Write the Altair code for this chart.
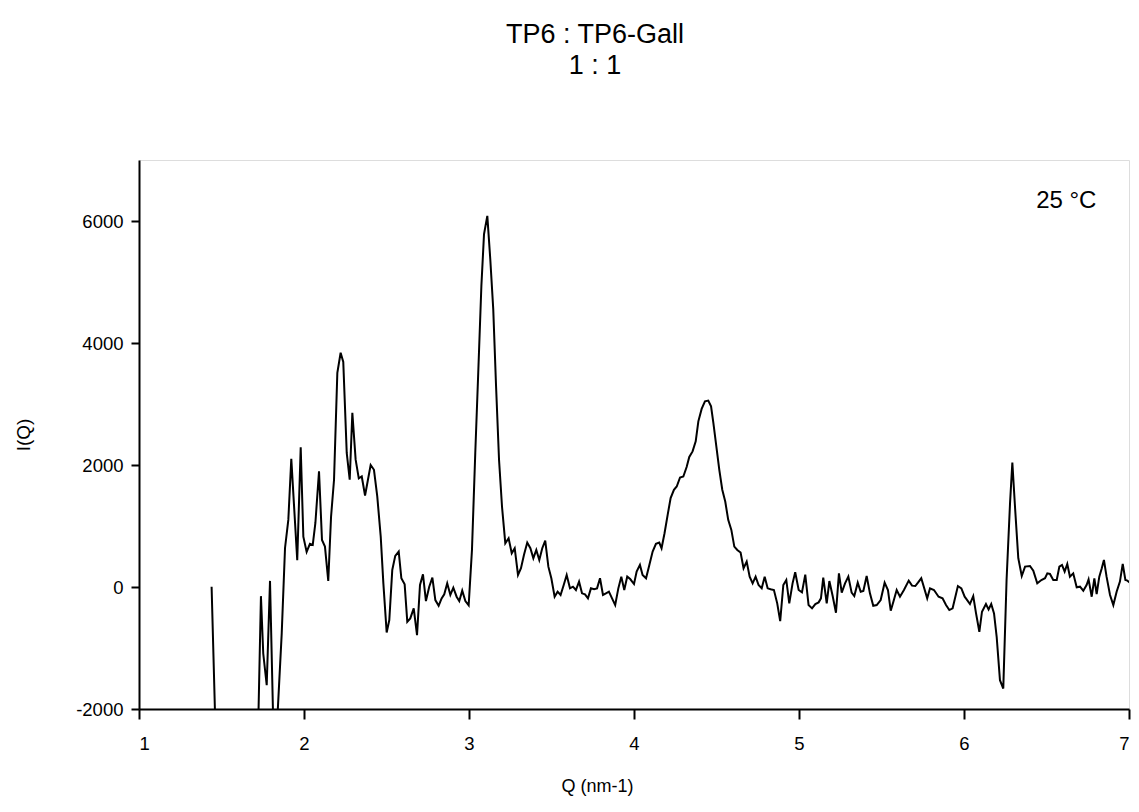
import altair as alt
import pandas as pd

# Q (nm-1) values
q = [1.440, 1.462, 1.50, 1.55, 1.60, 1.65, 1.70, 1.720, 1.739, 1.753, 1.774, 1.794, 1.815, 1.830,
     1.865, 1.885, 1.905, 1.923, 1.959, 1.980, 1.996, 2.016, 2.036, 2.053, 2.069, 2.091, 2.109,
     2.127, 2.147, 2.164, 2.182, 2.202, 2.222, 2.238, 2.259, 2.277, 2.293, 2.313, 2.332, 2.350,
     2.370, 2.387, 2.404, 2.424, 2.444, 2.465, 2.481, 2.501, 2.517, 2.535, 2.553, 2.574, 2.590,
     2.610, 2.626, 2.644, 2.665, 2.685, 2.703, 2.721, 2.739, 2.759, 2.778, 2.796, 2.816, 2.834,
     2.850, 2.868, 2.887, 2.905, 2.925, 2.941, 2.959, 2.978, 2.998, 3.018, 3.038, 3.056, 3.075,
     3.091, 3.111, 3.129, 3.147, 3.164, 3.182, 3.200, 3.220, 3.240, 3.259, 3.277, 3.297, 3.315,
     3.333, 3.353, 3.372, 3.390, 3.408, 3.426, 3.444, 3.462, 3.481, 3.499, 3.519, 3.537, 3.555,
     3.574, 3.592, 3.612, 3.630, 3.648, 3.667, 3.685, 3.703, 3.721, 3.739, 3.758, 3.776, 3.794,
     3.812, 3.830, 3.848, 3.867, 3.886, 3.905, 3.923, 3.941, 3.959, 3.977, 4.000, 4.016, 4.036,
     4.052, 4.073, 4.093, 4.113, 4.133, 4.153, 4.167, 4.185, 4.204, 4.222, 4.242, 4.259, 4.279,
     4.299, 4.319, 4.335, 4.355, 4.374, 4.390, 4.410, 4.430, 4.450, 4.467, 4.481, 4.499, 4.517,
     4.535, 4.553, 4.571, 4.590, 4.608, 4.626, 4.646, 4.664, 4.683, 4.701, 4.719, 4.737, 4.755,
     4.774, 4.792, 4.810, 4.828, 4.848, 4.868, 4.886, 4.905, 4.923, 4.941, 4.961, 4.977, 4.998,
     5.018, 5.038, 5.058, 5.079, 5.099, 5.119, 5.133, 5.147, 5.168, 5.184, 5.204, 5.224, 5.242,
     5.259, 5.279, 5.299, 5.319, 5.335, 5.356, 5.374, 5.390, 5.410, 5.430, 5.450, 5.471, 5.495,
     5.519, 5.539, 5.556, 5.572, 5.592, 5.612, 5.636, 5.665, 5.685, 5.705, 5.721, 5.741, 5.777,
     5.794, 5.818, 5.846, 5.870, 5.891, 5.911, 5.931, 5.963, 5.984, 6.004, 6.016, 6.036, 6.056,
     6.073, 6.093, 6.109, 6.133, 6.149, 6.165, 6.182, 6.198, 6.218, 6.238, 6.258, 6.279, 6.293,
     6.309, 6.329, 6.350, 6.370, 6.400, 6.420, 6.444, 6.469, 6.491, 6.505, 6.521, 6.541, 6.562,
     6.578, 6.594, 6.610, 6.626, 6.642, 6.662, 6.683, 6.703, 6.723, 6.743, 6.755, 6.774, 6.790,
     6.804, 6.820, 6.835, 6.848, 6.864, 6.885, 6.905, 6.925, 6.945, 6.962, 6.978, 6.990, 7.006]

# I(Q) values
iq = [5, -2200, -4000, -4000, -4000, -4000, -4000, -2600, -150, -1090, -1610, 100, -2400, -2600,
      -760, 640, 1100, 2100, 440, 2290, 826, 575, 707, 690, 1050, 1895, 772,
      662, 98, 1155, 1758, 3510, 3840, 3690, 2197, 1758, 2854, 2087, 1780, 1812,
      1500, 1750, 2000, 1922, 1484, 826, 60, -745, -542, 280, 510, 580, 143,
      44, -570, -515, -350, -789, 33, 208, -230, 5, 153, -214, -307, -186,
      -120, 60, -131, -11, -159, -230, -60, -230, -300, 608, 2197, 3511, 4934,
      5783, 6084, 5373, 4551, 3291, 2087, 1319, 718, 800, 554, 636, 197, 307,
      526, 728, 636, 472, 608, 444, 636, 761, 334, 143, -159, -77, -131,
      33, 197, -22, 5, -49, 88, -104, -120, -186, -22, -38, -22, 143,
      -131, -104, -77, -186, -296, -22, 170, -49, 170, 130, 49, 252, 362,
      197, 143, 362, 580, 707, 728, 636, 882, 1183, 1457, 1594, 1648, 1796,
      1812, 1967, 2131, 2223, 2387, 2716, 2920, 3045, 3056, 2962, 2690, 2305, 1922,
      1594, 1401, 1101, 936, 662, 608, 564, 307, 416, 170, 60, 170, 33,
      -22, 170, -22, -38, -49, -268, -560, 33, 115, -268, 60, 241, -49,
      -88, 203, -296, -350, -279, -252, -186, 153, -268, 98, -148, -422, 224,
      -93, 60, 170, -93, -148, 71, -77, -66, 181, -104, -307, -296, -214,
      71, -49, -389, -241, -49, -159, -49, 104, 22, 16, 71, 143, -186,
      -22, -49, -159, -186, -296, -378, -350, 16, -22, -159, -202, -279, -148,
      -433, -734, -405, -279, -367, -279, -433, -816, -1528, -1665, 115, 1375, 2042,
      1319, 472, 181, 334, 345, 268, 60, 115, 143, 224, 214, 115, 115,
      334, 362, 252, 378, 170, 224, -5, 5, -60, 33, 126, -159, 143,
      -115, 170, 307, 444, 170, -131, -296, -77, 88, 378, 115, 104, 71]

x_ticks = [1, 2, 3, 4, 5, 6, 7]
y_ticks = [-2000, 0, 2000, 4000, 6000]
title_lines = ["TP6 : TP6-Gall", "1 : 1"]
note_text = ["25 °C"]
note_q = [6.62]
note_i = [6330]

df = pd.DataFrame({"Q": q, "I": iq, "order": list(range(len(q)))})
notes = pd.DataFrame({"Q": note_q, "I": note_i, "label": note_text})

FONT = "Liberation Sans"

x_enc = alt.X(
    "Q:Q",
    scale=alt.Scale(domain=[1, 7], nice=False, zero=False),
    axis=alt.Axis(
        title="Q (nm-1)", values=x_ticks, labelExpr="'' + datum.value", grid=False,
        domainColor="black", domainWidth=2, tickColor="black", tickWidth=2,
        tickSize=10, labelPadding=15, labelFontSize=18.5, titleFontSize=18,
        labelFont=FONT, titleFont=FONT, titleFontWeight="normal",
        labelColor="black", titleColor="black", titlePadding=25,
        titleX=458, titleAlign="center",
    ),
)
y_enc = alt.Y(
    "I:Q",
    scale=alt.Scale(domain=[-2000, 7000], nice=False, zero=False),
    axis=alt.Axis(
        title="I(Q)", values=y_ticks, labelExpr="'' + datum.value", grid=False,
        domainColor="black", domainWidth=2, tickColor="black", tickWidth=2,
        tickSize=8, labelPadding=8, labelFontSize=18.5, titleFontSize=19,
        labelFont=FONT, titleFont=FONT, titleFontWeight="normal",
        labelColor="black", titleColor="black", titlePadding=42,
    ),
)

line = alt.Chart(df).mark_line(color="black", strokeWidth=2, clip=True).encode(
    x=x_enc, y=y_enc, order="order:Q"
)

note = alt.Chart(notes).mark_text(
    font=FONT, fontSize=24, color="black", align="center", baseline="middle"
).encode(x="Q:Q", y="I:Q", text="label:N")

chart = (
    alt.layer(line, note)
    .properties(
        width=990,
        height=549,
        title=alt.TitleParams(
            text=title_lines, anchor="middle", dx=-39, offset=80,
            font=FONT, fontSize=27, fontWeight="normal", color="black",
            lineHeight=31,
        ),
        autosize=alt.AutoSizeParams(type="none"),
        padding={"left": 139, "top": 160, "right": 10, "bottom": 103},
    )
    .configure_view(stroke=None)
    .configure(background="white")
)

chart.save("out.html", embed_options={"renderer": "svg", "actions": False})
